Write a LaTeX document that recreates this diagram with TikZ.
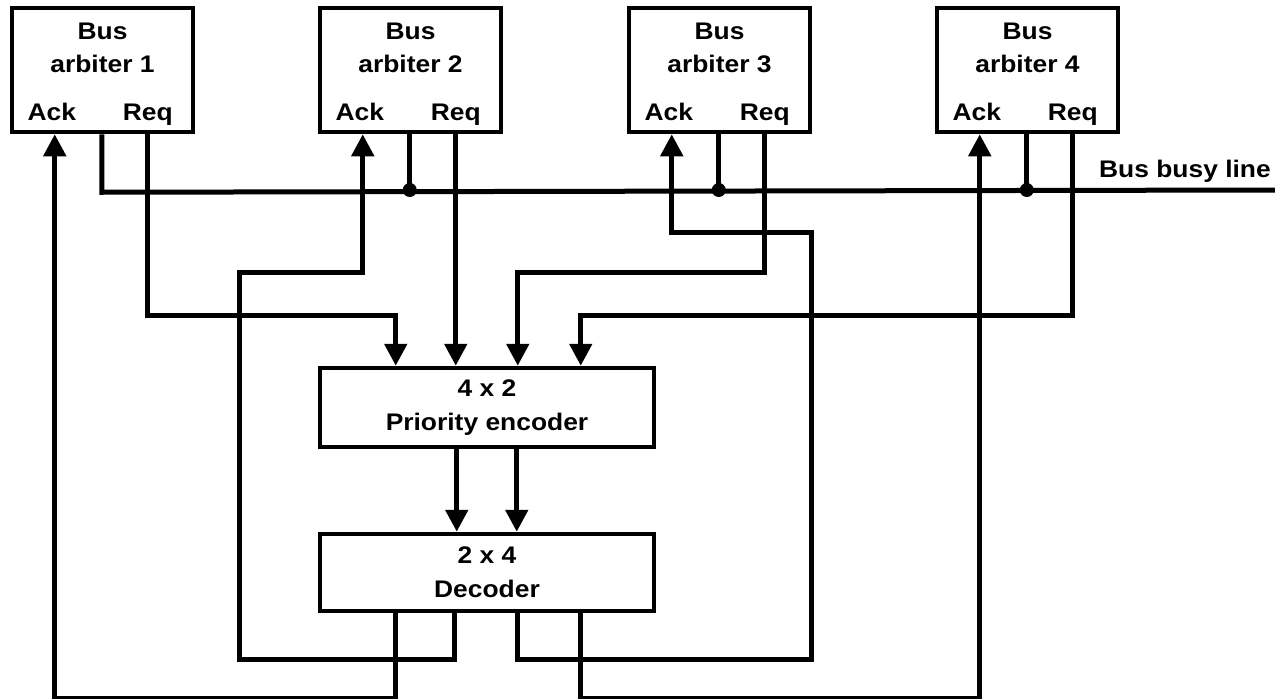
\documentclass[tikz,border=0pt]{standalone}
\usepackage{fontspec}
\setmainfont{Liberation Sans}[FakeStretch=1.1]
\usetikzlibrary{arrows.meta}
\begin{document}
\begin{tikzpicture}[x=1pt,y=-1pt,
  wire/.style={line width=5pt},
  sig/.style={wire,-{Triangle[width=22pt,length=22pt]}},
  txt/.style={font=\bfseries\fontsize{24}{34}\selectfont,inner sep=0pt},
  blk/.style={draw,line width=4.5pt,txt,align=center},
  arb/.style={blk,minimum width=181pt,minimum height=124pt},
  dot/.style={circle,fill,inner sep=0pt,minimum size=14pt}]
\useasboundingbox (0,0) rectangle (1275,699);

% bus arbiters
\foreach \i/\cx in {1/102.5,2/410.5,3/719.5,4/1027.5}{
  \node[arb] (a\i) at (\cx,70) {};
  \path (a\i.north) ++(0,34) node[txt,anchor=base] (t\i) {Bus}
        ++(0,33) node[txt,anchor=base] (s\i) {arbiter \i};
  \path (a\i.south west) ++(42,-14) node[txt,anchor=base] (ack\i) {Ack};
  \path (a\i.south west) ++(138,-14) node[txt,anchor=base] (req\i) {Req};
  % ports: acknowledge, busy, request
  \path (a\i.south west) ++(45,0) coordinate (k\i) ++(47,0) coordinate (b\i) ++(46,0) coordinate (r\i);
}

% encoder and decoder
\node[blk,minimum width=334pt,minimum height=79pt] (enc) at (487,407.5) {4 x 2\\Priority encoder};
\node[blk,minimum width=334pt,minimum height=77pt] (dec) at (487,572.5) {2 x 4\\Decoder};

\path (enc.north west) ++(78,0) coordinate (e1) ++(60,0) coordinate (e2) ++(62,0) coordinate (e3) ++(63,0) coordinate (e4);
\path (enc.south west) ++(139,0) coordinate (o1) ++(60,0) coordinate (o2);
\path (dec.north west) ++(139,0) coordinate (i1) ++(60,0) coordinate (i2);
\path (dec.south west) ++(78,0) coordinate (d1) ++(59,0) coordinate (d2) ++(63,0) coordinate (d3) ++(63,0) coordinate (d4);

% bus busy line
\coordinate (busR) at (1275,190);
\draw[wire] (b1) -- ++(0,58) -- (busR);
\foreach \i in {2,3,4}{
  \draw[wire] (b\i) -- (b\i |- busR) node[dot] (j\i) {};
}
\node[txt,anchor=base east] (busy) at (1271,177) {Bus busy line};

% requests into the encoder
\draw[sig] (r1) -- ++(0,181) -| (e1);
\draw[sig] (r2) -- (e2);
\draw[sig] (r3) -- ++(0,138) -| (e3);
\draw[sig] (r4) -- ++(0,181) -| (e4);

% encoder to decoder
\draw[sig] (o1) -- (i1);
\draw[sig] (o2) -- (i2);

% acknowledges back to the arbiters
\draw[sig] (d1) -- ++(0,85) -| (k1);
\draw[sig] (d2) -- ++(0,46) -- ++(-215,0) -- ++(0,-387) -| (k2);
\draw[sig] (d3) -- ++(0,46) -- ++(294,0) -- ++(0,-427) -| (k3);
\draw[sig] (d4) -- ++(0,85) -| (k4);
\end{tikzpicture}
\end{document}
